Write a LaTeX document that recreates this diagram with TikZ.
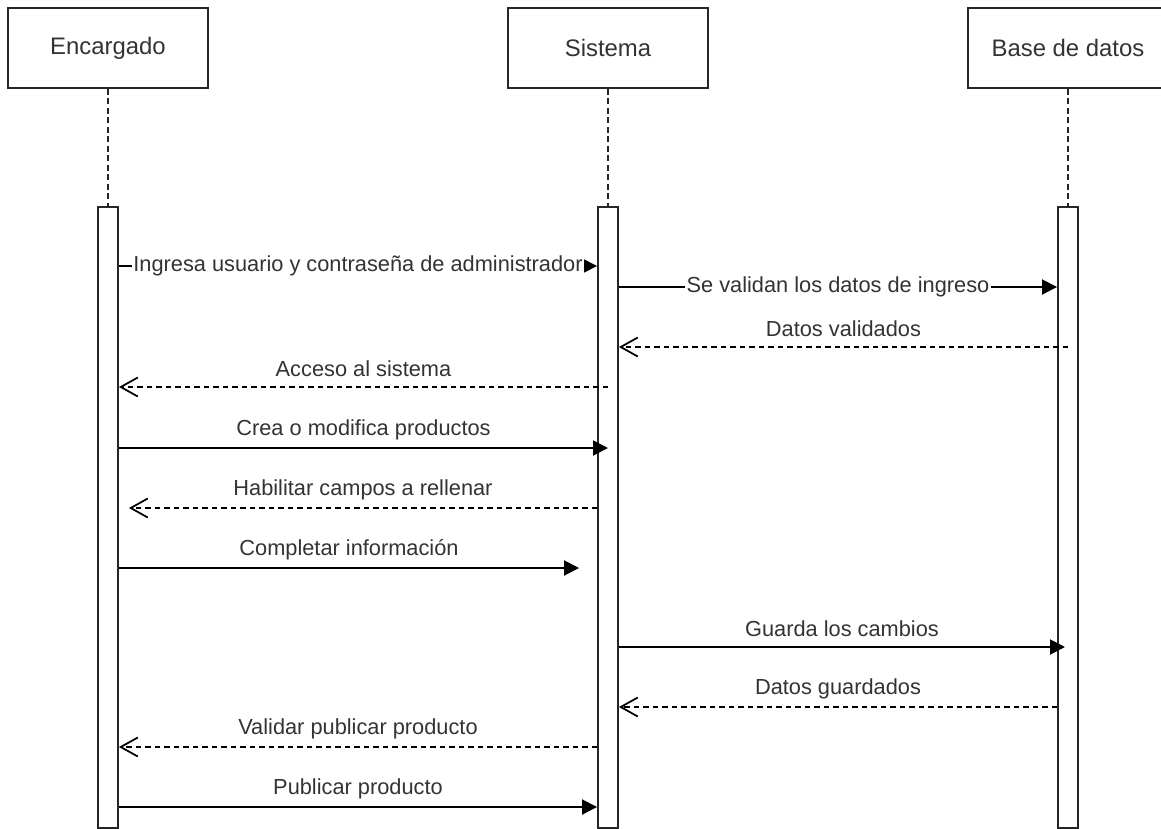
\documentclass[tikz,border=0pt]{standalone}
\usepackage{fontspec}
\setmainfont{Liberation Sans}
\usetikzlibrary{arrows.meta,calc}
\definecolor{txtgray}{HTML}{333333}

\tikzset{
  lifebox/.style={draw=black!85, line width=1.1pt, minimum width=4cm, minimum height=1.6cm, text=txtgray, font=\fontsize{13.6}{16}\selectfont},
  actbar/.style={draw=black!85, line width=1.1pt, fill=white, minimum width=0.4cm, minimum height=12.42cm},
  lifeline/.style={black!85, line width=1pt, dash pattern=on 0.12cm off 0.07cm},
  call/.style={line width=1.1pt, -{Triangle[length=0.3cm,width=0.3cm]}},
  reply/.style={line width=1pt, dash pattern=on 0.11cm off 0.08cm, -{Straight Barb[length=0.34cm,width=0.38cm]}},
  msg/.style={midway, text=txtgray, font=\fontsize{12.4}{15}\selectfont},
  msgon/.style={msg, fill=white, inner sep=1pt},
  msgup/.style={msg, yshift=0.36cm}
}

\begin{document}
\begin{tikzpicture}[x=0.02cm, y=-0.02cm]
    % Page frame
    \useasboundingbox (0,0) rectangle (1161,829);
    \clip (0,0) rectangle (1161,829);

    % Participants
    \node[lifebox] (enc) at (108,48) {Encargado};
    \node[lifebox] (sis) at (608,48) {Sistema};
    \node[lifebox] (base) at (1068,48) {Base de datos};

    % Activation bars
    \node[actbar] (encbar) at (108,517.5) {};
    \node[actbar] (sisbar) at (608,517.5) {};
    \node[actbar] (basebar) at (1068,517.5) {};

    % Lifelines
    \draw[lifeline] (enc.south) -- (encbar.north);
    \draw[lifeline] (sis.south) -- (sisbar.north);
    \draw[lifeline] (base.south) -- (basebar.north);

    % Login
    \draw[call] (encbar.east |- 0,266) -- node[msgon] {Ingresa usuario y contraseña de administrador} (sisbar.west |- 0,266);
    \draw[call] (sisbar.east |- 0,287) -- node[msgon] {Se validan los datos de ingreso} (basebar.west |- 0,287);
    \draw[reply] (basebar.center |- 0,347) -- node[msgup] {Datos validados} (sisbar.east |- 0,347);
    \draw[reply] (sisbar.center |- 0,387) -- node[msgup] {Acceso al sistema} (encbar.east |- 0,387);

    % Products
    \draw[call] (encbar.east |- 0,448) -- node[msgup] {Crea o modifica productos} (sisbar.center |- 0,448);
    \draw[reply] (sisbar.west |- 0,508) -- node[msgup] {Habilitar campos a rellenar} ($(encbar.east |- 0,508)+(10,0)$);
    \draw[call] (encbar.east |- 0,568) -- node[msgup] {Completar información} ($(sisbar.west |- 0,568)+(-18,0)$);
    \draw[call] (sisbar.east |- 0,647) -- node[msgup] {Guarda los cambios} ($(basebar.center |- 0,647)+(-3,0)$);
    \draw[reply] (basebar.west |- 0,707) -- node[msgup] {Datos guardados} (sisbar.east |- 0,707);

    % Publishing
    \draw[reply] (sisbar.west |- 0,747) -- node[msgup] {Validar publicar producto} (encbar.east |- 0,747);
    \draw[call] (encbar.east |- 0,807) -- node[msgup] {Publicar producto} (sisbar.west |- 0,807);
\end{tikzpicture}
\end{document}
